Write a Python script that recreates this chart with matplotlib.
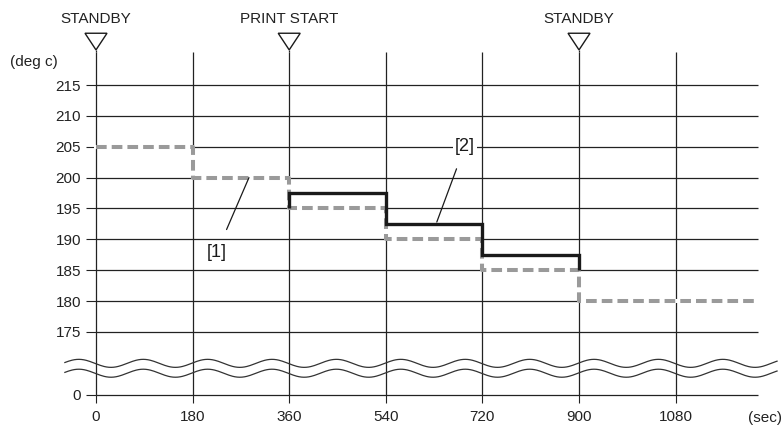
import numpy as np
import matplotlib
matplotlib.use("Agg")
import matplotlib.pyplot as plt

plt.rcParams['font.family'] = ['Liberation Sans', 'DejaVu Sans']

# ---- data ----
x_ticks = [0, 180, 360, 540, 720, 900, 1080]
y_ticks = [175, 180, 185, 190, 195, 200, 205, 210, 215]
y_zero_label = "0"

# series [1] (dashed gray): step start times and temperatures
s1_times = [0, 180, 360, 540, 720, 900]
s1_temps = [205, 200, 195, 190, 185, 180]
s1_end = 1233

# series [2] (solid black)
s2_times = [360, 540, 720, 900]
s2_temps = [197.5, 192.5, 187.5]
s2_start_temp = 195
s2_end_temp = 185

events = [0, 360, 900]
event_labels = ["STANDBY", "PRINT START", "STANDBY"]

# ---- layout helpers ----
ZERO_POS = 164.77      # where "0" sits on the broken axis
Y_TOP = 220.36
X_MAX = 1233.5

fig = plt.figure(figsize=(7.84, 4.34), dpi=100)
ax = fig.add_axes([96/784, 39/434, 662/784, 343/434])
ax.set_xlim(0, X_MAX)
ax.set_ylim(ZERO_POS, Y_TOP)
for s in ax.spines.values():
    s.set_visible(False)

grid_c = '#222222'
# horizontal grid
ax.hlines(y_ticks + [ZERO_POS], 0, X_MAX, color=grid_c, lw=0.9, clip_on=False, zorder=1)
# vertical grid
ax.vlines(x_ticks, ZERO_POS, Y_TOP, color=grid_c, lw=0.9, clip_on=False, zorder=1)

ax.set_yticks([ZERO_POS] + y_ticks)
ax.set_yticklabels([y_zero_label] + [str(v) for v in y_ticks])
ax.set_xticks(x_ticks)
ax.set_xticklabels([str(v) for v in x_ticks])
ax.tick_params(axis='y', length=7.2, width=0.8, color=grid_c, pad=3.5,
               labelsize=11, labelcolor='#222222')
ax.tick_params(axis='x', length=5.8, width=0.8, color=grid_c, pad=5,
               labelsize=11, labelcolor='#222222')

# series 1: dashed gray step (white backing hides the grid beneath)
x1 = list(s1_times) + [s1_end]
y1 = list(s1_temps) + [s1_temps[-1]]
ax.step(x1, y1, where='post', color='white', lw=2.9, zorder=2.5, clip_on=False)
l1, = ax.step(x1, y1, where='post', color='#9a9a9a', lw=2.9, zorder=3,
              clip_on=False)
l1.set_dashes([2.65, 1.25])

# series 2: solid black
x2 = [s2_times[0]]
y2 = [s2_start_temp]
for i, t in enumerate(s2_temps):
    x2 += [s2_times[i], s2_times[i + 1]]
    y2 += [t, t]
x2.append(s2_times[-1])
y2.append(s2_end_temp)
ax.plot(x2, y2, color='#1a1a1a', lw=2.4, zorder=4, solid_joinstyle='miter',
        solid_capstyle='butt')

# event markers
ax.vlines(events, Y_TOP, 220.7, color=grid_c, lw=0.9, clip_on=False)
for xe, lab in zip(events, event_labels):
    ax.fill([xe - 20.5, xe + 20.5, xe], [223.4, 223.4, 220.7],
            facecolor='white', edgecolor='#1a1a1a', lw=1.0, clip_on=False,
            zorder=5)
    ax.text(xe, 225.7, lab, ha='center', va='center', fontsize=11,
            color='#222222', clip_on=False)

# break marks (wavy)
wx = np.linspace(-58, 1269, 600)
for c in (169.9, 168.3):
    ax.plot(wx, c + 0.65 * np.cos(2 * np.pi * (wx - 88) / 120), color='#333333',
            lw=0.9, clip_on=False, zorder=2)

# annotations
ax.annotate("[1]", xy=(285, 200), xytext=(225, 187.9), fontsize=13,
            ha='center', va='center', color='#1a1a1a',
            arrowprops=dict(arrowstyle='-', color='#1a1a1a', lw=0.9,
                            shrinkA=9, shrinkB=0))
ax.annotate("[2]", xy=(635, 192.8), xytext=(687, 205), fontsize=13,
            ha='center', va='center', color='#1a1a1a',
            bbox=dict(boxstyle='square,pad=0.1', fc='white', ec='none'),
            arrowprops=dict(arrowstyle='-', color='#1a1a1a', lw=0.9,
                            shrinkA=9, shrinkB=0))

fig.text(10/784, 1 - 62/434, "(deg c)", ha='left', va='center', fontsize=11,
         color='#222222')
fig.text(782/784, 1 - 418/434, "(sec)", ha='right', va='center', fontsize=11,
         color='#222222')

fig.savefig("out.png", dpi=100, facecolor='white')
